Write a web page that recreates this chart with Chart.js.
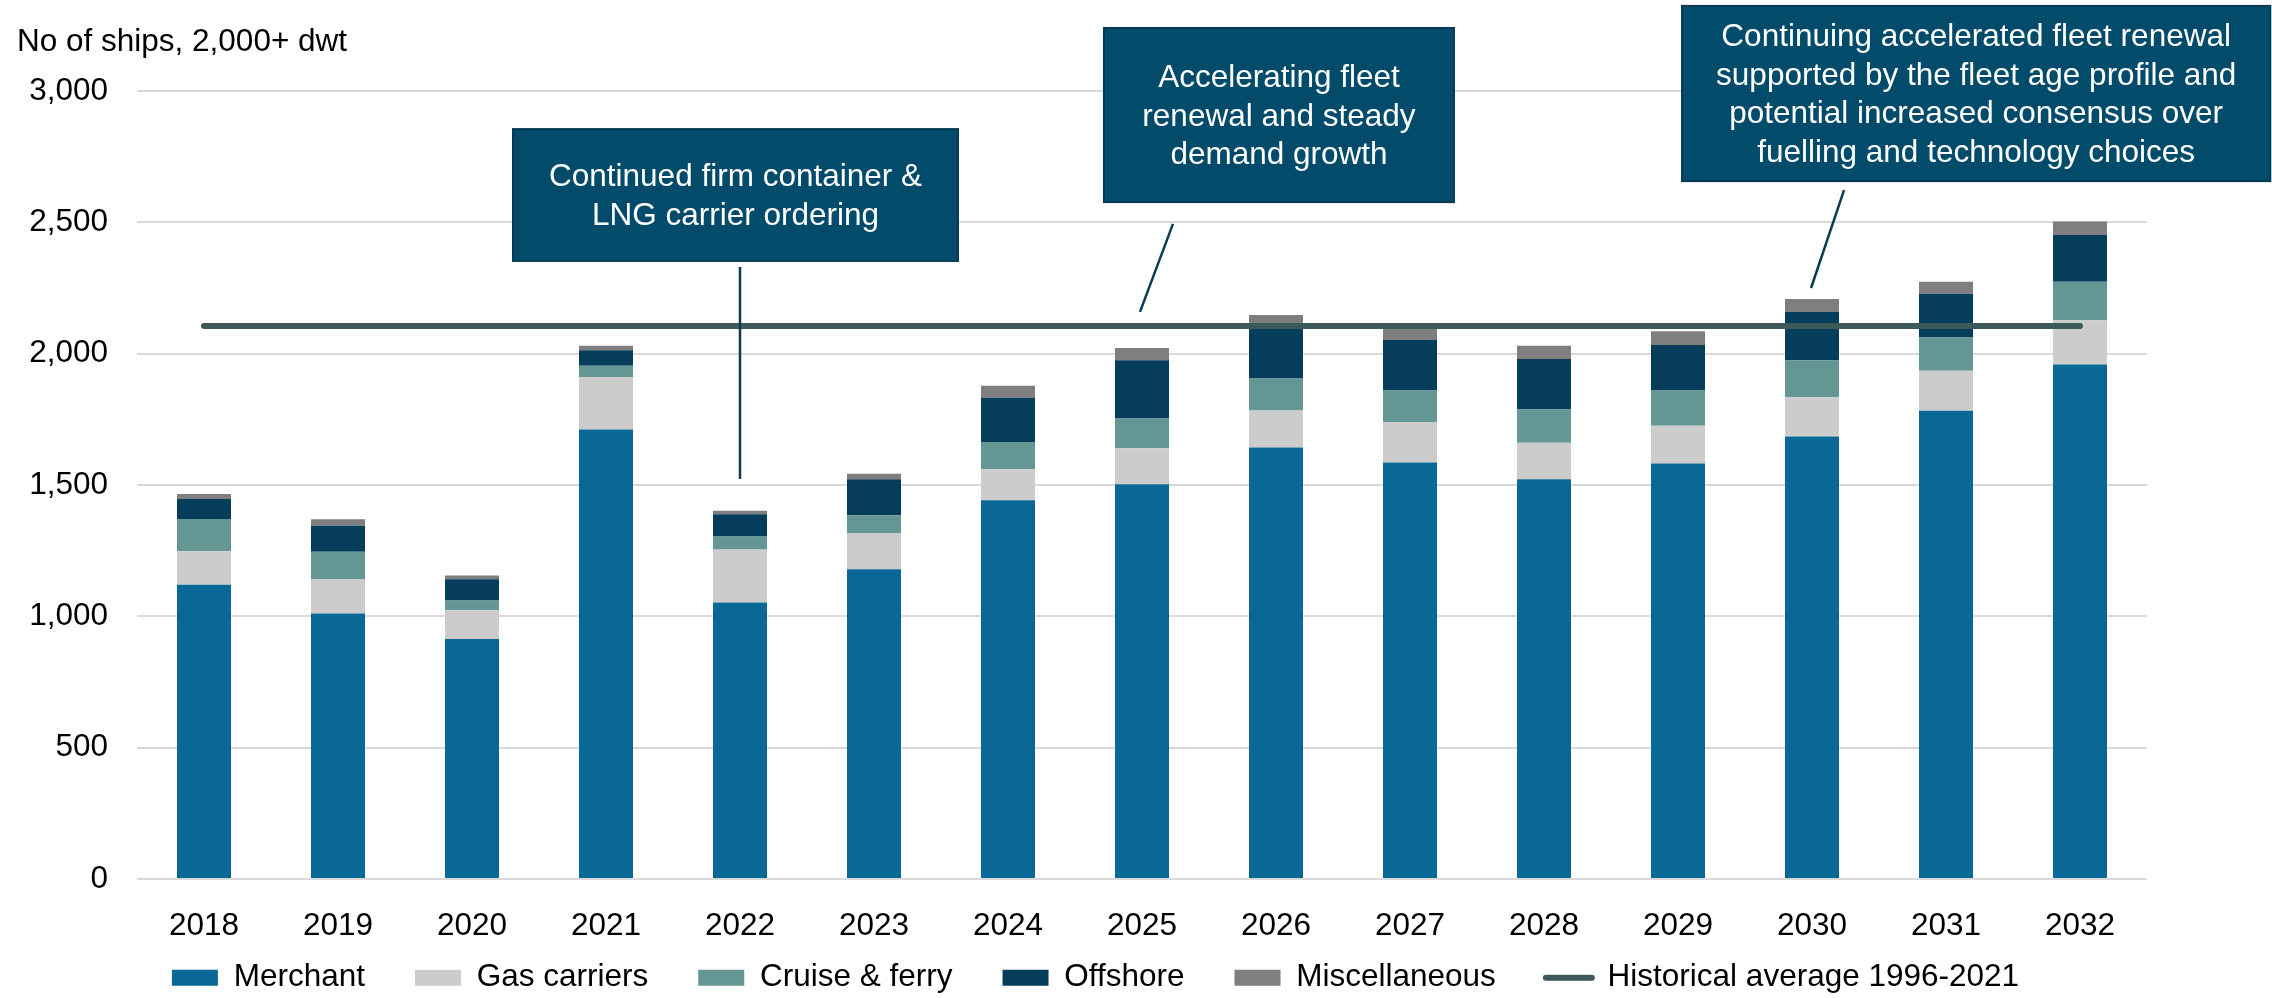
<!DOCTYPE html>
<html>
<head>
<meta charset="utf-8">
<title>Newbuild deliveries</title>
<script src="https://cdn.jsdelivr.net/npm/chart.js@4/dist/chart.umd.min.js"></script>
<style>
  html, body { margin: 0; padding: 0; background: #fff; }
  #wrap { width: 2272px; height: 998px; position: relative; }
</style>
</head>
<body>
<div id="wrap"><canvas id="G1"></canvas></div>
<script>
var years = ["2018", "2019", "2020", "2021", "2022", "2023", "2024", "2025", "2026", "2027", "2028", "2029", "2030", "2031", "2032"];

// no of ships per segment
var merchant     = [1120, 1011, 914, 1711, 1053, 1179, 1442, 1503, 1643, 1586, 1522, 1582, 1685, 1783, 1959];
var gasCarriers  = [128, 129, 109, 199, 201, 138, 118, 137, 141, 154, 139, 144, 149, 152, 168];
var cruiseFerry  = [123, 106, 37, 44, 50, 68, 104, 113, 121, 120, 127, 134, 141, 127, 147];
var offshore     = [76, 99, 81, 59, 85, 137, 168, 222, 196, 192, 192, 173, 184, 166, 178];
var misc         = [19, 25, 14, 17, 13, 21, 46, 47, 46, 45, 50, 52, 49, 46, 51];
var historicalAvg = [2105, 2105, 2105, 2105, 2105, 2105, 2105, 2105, 2105, 2105, 2105, 2105, 2105, 2105, 2105];

var yTicks = [0, 500, 1000, 1500, 2000, 2500, 3000];

var FONT = '"Liberation Sans", Arial, Helvetica, sans-serif';
var FS = 31.5;

// callout boxes, placed in axis units (category index, no of ships)
var notes = [
    { lines: ["Continued firm container &", "LNG carrier ordering"],
      x: [2.306, 5.627], y: [2855, 2353], pointer: [[4, 2330], [4, 1523]] },
    { lines: ["Accelerating fleet", "renewal and steady", "demand growth"],
      x: [6.716, 9.328], y: [3240, 2577], pointer: [[7.231, 2494], [6.985, 2159]] },
    { lines: ["Continuing accelerated fleet renewal", "supported by the fleet age profile and",
              "potential increased consensus over", "fuelling and technology choices"],
      x: [11.03, 15.42], y: [3324, 2657], pointer: [[12.239, 2623], [11.993, 2250]] }
];

var notesPlugin = {
    id: 'notes',
    afterDatasetsDraw: function (chart) {
        var ctx = chart.ctx, xs = chart.scales.x, ys = chart.scales.y;
        ctx.save();
        notes.forEach(function (n) {
            ctx.strokeStyle = '#0b3a55';
            ctx.lineWidth = 2.5;
            ctx.beginPath();
            ctx.moveTo(xs.getPixelForValue(n.pointer[0][0]), ys.getPixelForValue(n.pointer[0][1]));
            ctx.lineTo(xs.getPixelForValue(n.pointer[1][0]), ys.getPixelForValue(n.pointer[1][1]));
            ctx.stroke();

            var x0 = xs.getPixelForValue(n.x[0]), x1 = xs.getPixelForValue(n.x[1]);
            var y0 = ys.getPixelForValue(n.y[0]), y1 = ys.getPixelForValue(n.y[1]);
            ctx.fillStyle = '#024b6b';
            ctx.fillRect(x0, y0, x1 - x0, y1 - y0);
            ctx.strokeStyle = '#053a55';
            ctx.lineWidth = 2;
            ctx.strokeRect(x0, y0, x1 - x0, y1 - y0);

            ctx.fillStyle = '#ffffff';
            ctx.font = FS + 'px ' + FONT;
            ctx.textAlign = 'center';
            ctx.textBaseline = 'middle';
            var cy = (y0 + y1) / 2, lh = 38.5, k = n.lines.length;
            n.lines.forEach(function (t, i) {
                ctx.fillText(t, (x0 + x1) / 2, cy + (i - (k - 1) / 2) * lh + 2);
            });
        });
        // unit caption above the value axis
        ctx.fillStyle = '#000';
        ctx.textAlign = 'left';
        ctx.textBaseline = 'middle';
        ctx.font = FS + 'px ' + FONT;
        ctx.fillText('No of ships, 2,000+ dwt', 17, 42);
        ctx.restore();
    }
};

// give the year labels room below the axis and nudge the legend row
var layoutFix = {
    id: 'layoutFix',
    afterLayout: function (chart) {
        var xs = chart.scales.x;
        xs.bottom = xs.top + 62;
        xs.height = 62;
        if (chart.legend) chart.legend.left = 44;
    }
};

function barSet(label, data, color) {
    return {
        type: 'bar', label: label, data: data, backgroundColor: color, borderWidth: 0,
        barPercentage: 0.403, categoryPercentage: 1, order: 1
    };
}

var ctxG = document.getElementById("G1").getContext("2d");

var grafico = new Chart(ctxG, {
    data: {
        labels: years,
        datasets: [
            barSet("Merchant", merchant, '#0a6896'),
            barSet("Gas carriers", gasCarriers, '#cccccc'),
            barSet("Cruise & ferry", cruiseFerry, '#649693'),
            barSet("Offshore", offshore, '#063d5b'),
            barSet("Miscellaneous", misc, '#7f7f7f'),
            {
                type: 'line', label: "Historical average 1996-2021", data: historicalAvg,
                borderColor: '#3d5a5a', backgroundColor: '#3d5a5a', borderWidth: 6,
                borderCapStyle: 'round', pointRadius: 0, tension: 0, fill: false,
                stack: 'avg', order: 0
            }
        ]
    },
    options: {
        responsive: true,
        maintainAspectRatio: false,
        animation: false,
        devicePixelRatio: 1,
        layout: { padding: { top: 91, right: 125, bottom: -5.5, left: 0 } },
        scales: {
            x: {
                stacked: true,
                offset: true,
                grid: { display: false },
                border: { display: false },
                ticks: { color: '#000', padding: 20, font: { size: FS, family: FONT } },
                afterFit: function (s) { s.height = 33; }
            },
            y: {
                stacked: true,
                min: 0,
                max: 3000,
                grid: { color: '#d9d9d9', lineWidth: 2, drawTicks: false },
                border: { display: false },
                afterBuildTicks: function (s) {
                    s.ticks = yTicks.map(function (v) { return { value: v }; });
                },
                ticks: {
                    color: '#000', padding: 29, font: { size: FS, family: FONT },
                    callback: function (v) { return Number(v).toLocaleString('en-US'); }
                },
                afterFit: function (s) { s.width = 137; }
            }
        },
        plugins: {
            tooltip: { enabled: false },
            title: { display: false },
            legend: {
                position: 'bottom',
                labels: {
                    color: '#000',
                    font: { size: FS, family: FONT },
                    usePointStyle: true,
                    pointStyleWidth: 46,
                    boxHeight: 16,
                    padding: 50,
                    sort: function (a, b) { return a.datasetIndex - b.datasetIndex; },
                    generateLabels: function (chart) {
                        var items = Chart.defaults.plugins.legend.labels.generateLabels(chart);
                        items.forEach(function (it) {
                            var ds = chart.data.datasets[it.datasetIndex];
                            if (ds.type === 'line') {
                                it.pointStyle = 'line';
                                it.lineWidth = 6;
                                it.strokeStyle = ds.borderColor;
                                it.lineCap = 'round';
                            } else {
                                it.pointStyle = 'rect';
                                it.lineWidth = 0;
                            }
                        });
                        return items;
                    }
                }
            }
        }
    },
    plugins: [notesPlugin, layoutFix]
});
</script>
</body>
</html>
